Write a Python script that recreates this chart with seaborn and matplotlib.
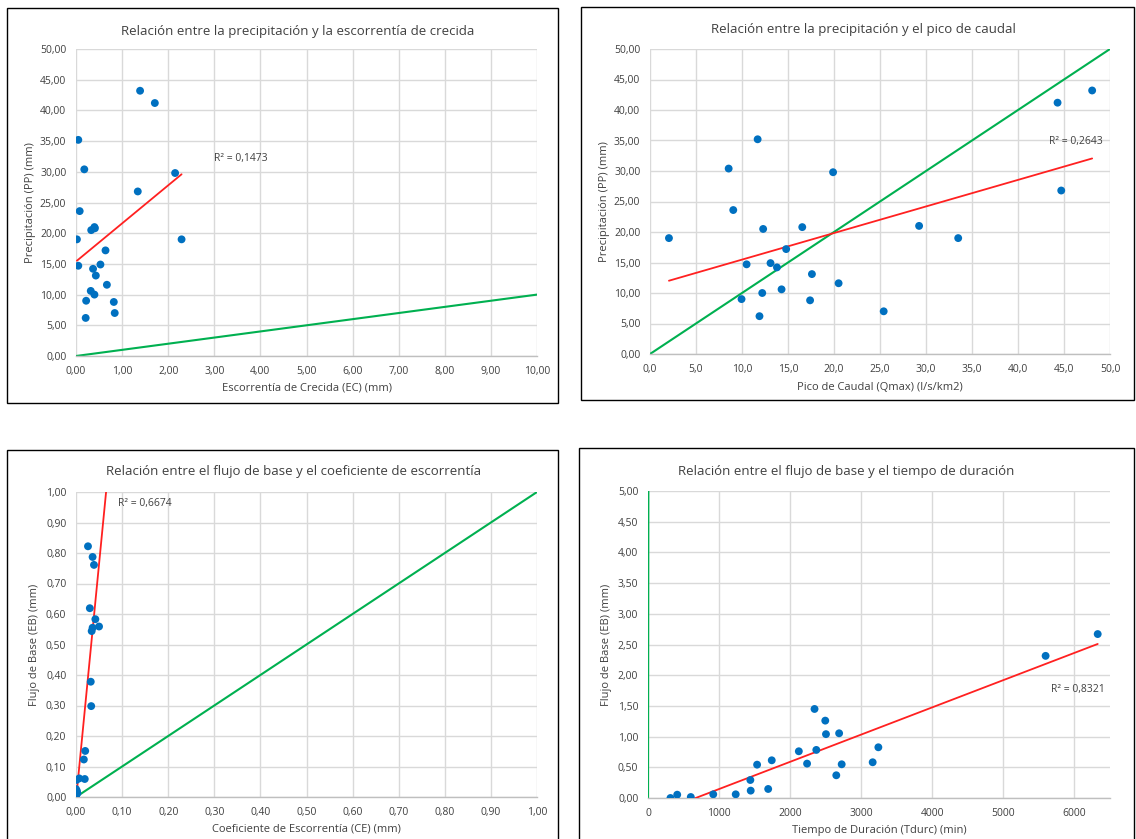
import matplotlib
matplotlib.use("Agg")
import matplotlib.pyplot as plt
from matplotlib.patches import Rectangle
from matplotlib.ticker import FuncFormatter, MultipleLocator
import numpy as np
import pandas as pd
import seaborn as sns

# ---------------- data ----------------
# events: precipitation, flood runoff, peak flow
pp = [43.2, 41.2, 35.2, 30.4, 29.8, 26.8, 23.6, 20.5, 20.8, 21.0, 19.0, 19.0,
      17.2, 14.7, 14.9, 14.2, 13.1, 11.6, 10.6, 10.0, 9.0, 8.8, 7.0, 6.2]
ec = [1.39, 1.71, 0.05, 0.18, 2.15, 1.34, 0.08, 0.33, 0.41, 0.40, 0.02, 2.29,
      0.64, 0.05, 0.53, 0.37, 0.43, 0.67, 0.32, 0.40, 0.22, 0.82, 0.84, 0.21]
qmax = [48.06, 44.3, 11.7, 8.55, 19.9, 44.7, 9.05, 12.3, 16.55, 29.25, 2.06, 33.5,
        14.8, 10.5, 13.1, 13.8, 17.6, 20.5, 14.3, 12.2, 9.95, 17.4, 25.4, 11.9]

# base flow vs runoff coefficient (visible points)
ce = [0.026, 0.036, 0.039, 0.030, 0.042, 0.050, 0.036, 0.034, 0.032, 0.033,
      0.020, 0.017, 0.019, 0.007, 0.001, 0.000, 0.002, 0.003, 0.000]
eb_ce = [0.822, 0.787, 0.761, 0.619, 0.583, 0.559, 0.555, 0.544, 0.378, 0.298,
         0.151, 0.123, 0.059, 0.061, 0.056, 0.026, 0.020, 0.012, 0.003]

# base flow vs duration
tdurc = [6327, 5594, 2343, 2494, 2689, 2504, 3241, 2368, 2122, 1741, 3161, 2238,
         2725, 1535, 2649, 1440, 1691, 1445, 918, 1234, 411, 602, 316]
eb = [2.67, 2.315, 1.45, 1.26, 1.054, 1.04, 0.826, 0.783, 0.761, 0.614, 0.582, 0.560,
      0.549, 0.543, 0.370, 0.293, 0.147, 0.120, 0.060, 0.060, 0.054, 0.016, 0.0]

titles = ["Relación entre la precipitación y la escorrentía de crecida",
          "Relación entre la precipitación y el pico de caudal",
          "Relación entre el flujo de base y el coeficiente de escorrentía",
          "Relación entre el flujo de base y el tiempo de duración"]
xlabels = ["Escorrentía de Crecida (EC) (mm)", "Pico de Caudal (Qmax) (l/s/km2)",
           "Coeficiente de Escorrentía (CE) (mm)", "Tiempo de Duración (Tdurc) (min)"]
ylabels = ["Precipitación (PP) (mm)", "Precipitación (PP) (mm)",
           "Flujo de Base (EB) (mm)", "Flujo de Base (EB) (mm)"]
r2_labels = ["R² = 0,1473", "R² = 0,2643", "R² = 0,6674", "R² = 0,8321"]

# ---------------- style ----------------
sns.set_theme(style="white")
plt.rcParams['font.family'] = ['Open Sans', 'DejaVu Sans']

W, H = 1136, 839
fig = plt.figure(figsize=(W / 100, H / 100), dpi=100)

BLUE = "#0070C0"
RED = "#FF2020"
GREEN = "#00B050"
GRID = "#d9d9d9"
TXT = "#404040"

def px_rect(l, t, r, b):
    return [l / W, 1 - b / H, (r - l) / W, (b - t) / H]

# chart borders
for (l, t, r, b) in [(7, 8, 558, 403), (581, 7, 1134, 400), (7, 450, 558, 845), (579, 448, 1134, 845)]:
    fig.patches.append(Rectangle((l / W, 1 - b / H), (r - l) / W, (b - t) / H,
                                 transform=fig.transFigure, fill=False,
                                 edgecolor="black", linewidth=1.0))

panels = [
    dict(rect=(76, 49, 537, 356), x=ec, y=pp, xlim=(0, 10), ylim=(0, 50), xstep=1, ystep=5,
         xfmt="{:.2f}", yfmt="{:.2f}", r2pos=(3.0, 32.1), title_xy=(298, 32),
         xlab_y=388, ylab_x=30, truncate=True),
    dict(rect=(650, 49, 1110, 354), x=qmax, y=pp, xlim=(0, 50), ylim=(0, 50), xstep=5, ystep=5,
         xfmt="{:.1f}", yfmt="{:.2f}", r2pos=(43.4, 34.9), title_xy=(863, 29),
         xlab_y=387, ylab_x=604, truncate=True),
    dict(rect=(76, 492, 537, 797), x=ce, y=eb_ce, xlim=(0, 1), ylim=(0, 1), xstep=0.1, ystep=0.1,
         xfmt="{:.2f}", yfmt="{:.2f}", r2pos=(0.091, 0.961), title_xy=(294, 472),
         xlab_y=829, ylab_x=35, truncate=False),
    dict(rect=(648, 491, 1110, 798), x=tdurc, y=eb, xlim=(0, 6500), ylim=(0, 5), xstep=1000, ystep=0.5,
         xfmt="{:.0f}", yfmt="{:.2f}", r2pos=(5672, 1.775), title_xy=(846, 471),
         xlab_y=830, ylab_x=606, truncate=True),
]

for i, p in enumerate(panels):
    l, t, r, b = p["rect"]
    ax = fig.add_axes(px_rect(l, t, r, b))
    df = pd.DataFrame({"x": p["x"], "y": p["y"]})
    ax.set_xlim(*p["xlim"])
    ax.set_ylim(*p["ylim"])
    # 1:1 reference line
    ref = pd.DataFrame({"x": [0, min(p["xlim"][1], p["ylim"][1])],
                        "y": [0, min(p["xlim"][1], p["ylim"][1])]})
    sns.lineplot(data=ref, x="x", y="y", ax=ax, color=GREEN, linewidth=1.5, zorder=2)
    # linear trendline
    sns.regplot(data=df, x="x", y="y", ax=ax, scatter=False, ci=None,
                truncate=p["truncate"], color=RED, line_kws=dict(linewidth=1.3, zorder=3))
    sns.scatterplot(data=df, x="x", y="y", ax=ax, color=BLUE, s=32, edgecolor="none", zorder=4)
    ax.set_xlim(*p["xlim"])
    ax.set_ylim(*p["ylim"])
    ax.xaxis.set_major_locator(MultipleLocator(p["xstep"]))
    ax.yaxis.set_major_locator(MultipleLocator(p["ystep"]))
    xf, yf = p["xfmt"], p["yfmt"]
    ax.xaxis.set_major_formatter(FuncFormatter(lambda v, pos, f=xf: f.format(v).replace(".", ",")))
    ax.yaxis.set_major_formatter(FuncFormatter(lambda v, pos, f=yf: f.format(v).replace(".", ",")))
    ax.grid(True, color=GRID, linewidth=1.0)
    ax.set_axisbelow(True)
    for s in ["top", "right", "left"]:
        ax.spines[s].set_visible(False)
    ax.spines["bottom"].set_color("#bfbfbf")
    ax.spines["bottom"].set_linewidth(1.0)
    ax.tick_params(axis="both", length=0, labelsize=7.5, colors=TXT, pad=7)
    ax.set_xlabel("")
    ax.set_ylabel("")
    ax.text(p["r2pos"][0], p["r2pos"][1], r2_labels[i], fontsize=7.5, color=TXT,
            ha="left", va="center", zorder=5)
    # titles and axis labels in figure pixels
    fig.text(p["title_xy"][0] / W, 1 - p["title_xy"][1] / H, titles[i], fontsize=9.5,
             color=TXT, ha="center", va="center")
    fig.text(((l + r) / 2) / W, 1 - p["xlab_y"] / H, xlabels[i], fontsize=8,
             color=TXT, ha="center", va="center")
    fig.text(p["ylab_x"] / W, 1 - ((t + b) / 2) / H, ylabels[i], fontsize=8,
             color=TXT, ha="center", va="center", rotation=90)

fig.savefig("out.png", dpi=100, facecolor="white")
